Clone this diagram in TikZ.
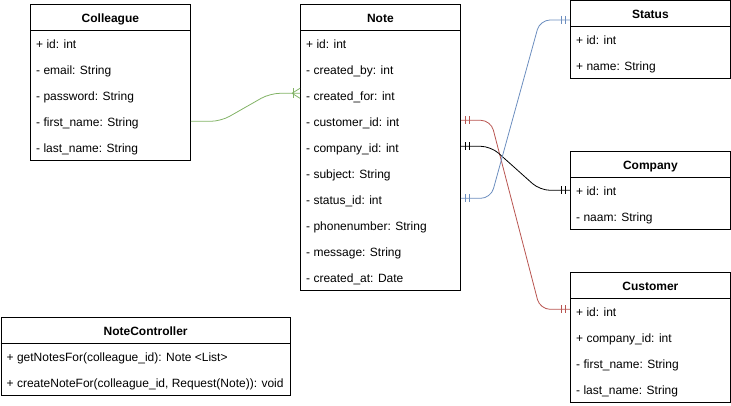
\documentclass[tikz,border=0pt]{standalone}
\usepackage{fontspec}
\setmainfont{Liberation Sans}
\definecolor{egreen}{HTML}{82B366}
\definecolor{eblue}{HTML}{6C8EBF}
\definecolor{ered}{HTML}{B85450}
\begin{document}
\begin{tikzpicture}[x=1pt,y=-1pt,font=\fontsize{12}{14}\selectfont,
  ent/.style={draw, line width=0.8pt, anchor=north west, inner sep=0, minimum width=#1},
  hdr/.style={font=\fontsize{12}{14}\selectfont\bfseries, anchor=base, inner sep=0, yshift=-1pt},
  row/.style={anchor=base west, inner sep=0, yshift=-1pt},
  rel/.style={line width=0.8pt, rounded corners=10pt},
  tickmark/.style={line width=0.8pt}]
\useasboundingbox (0,0) rectangle (731,406);

% ---------- Colleague
\node[ent=160pt, minimum height=156pt] (col) at (30,4) {};
\draw[line width=0.8pt] ([yshift=-26pt]col.north west) -- ([yshift=-26pt]col.north east);
\node[hdr] (colh) at ([yshift=-17.3pt]col.north) {Colleague};
\node[row] (c1) at ([xshift=6pt,yshift=-43.3pt]col.north west) {+ id: int};
\node[row] (c2) at ([xshift=6pt,yshift=-69.3pt]col.north west) {- email: String};
\node[row] (c3) at ([xshift=6pt,yshift=-95.3pt]col.north west) {- password: String};
\node[row] (c4) at ([xshift=6pt,yshift=-121.3pt]col.north west) {- first\_name: String};
\node[row] (c5) at ([xshift=6pt,yshift=-147.3pt]col.north west) {- last\_name: String};

% ---------- Note
\node[ent=160pt, minimum height=286pt] (note) at (300,4) {};
\draw[line width=0.8pt] ([yshift=-26pt]note.north west) -- ([yshift=-26pt]note.north east);
\node[hdr] (noteh) at ([yshift=-17.3pt]note.north) {Note};
\node[row] (n1) at ([xshift=6pt,yshift=-43.3pt]note.north west) {+ id: int};
\node[row] (n2) at ([xshift=6pt,yshift=-69.3pt]note.north west) {- created\_by: int};
\node[row] (n3) at ([xshift=6pt,yshift=-95.3pt]note.north west) {- created\_for: int};
\node[row] (n4) at ([xshift=6pt,yshift=-121.3pt]note.north west) {- customer\_id: int};
\node[row] (n5) at ([xshift=6pt,yshift=-147.3pt]note.north west) {- company\_id: int};
\node[row] (n6) at ([xshift=6pt,yshift=-173.3pt]note.north west) {- subject: String};
\node[row] (n7) at ([xshift=6pt,yshift=-199.3pt]note.north west) {- status\_id: int};
\node[row] (n8) at ([xshift=6pt,yshift=-225.3pt]note.north west) {- phonenumber: String};
\node[row] (n9) at ([xshift=6pt,yshift=-251.3pt]note.north west) {- message: String};
\node[row] (n10) at ([xshift=6pt,yshift=-277.3pt]note.north west) {- created\_at: Date};

% ---------- Status
\node[ent=160pt, minimum height=77.5pt] (st) at (570,0.5) {};
\draw[line width=0.8pt] ([yshift=-25.5pt]st.north west) -- ([yshift=-25.5pt]st.north east);
\node[hdr] (sth) at ([yshift=-17pt]st.north) {Status};
\node[row] (s1) at ([xshift=6pt,yshift=-43pt]st.north west) {+ id: int};
\node[row] (s2) at ([xshift=6pt,yshift=-69pt]st.north west) {+ name: String};
\coordinate (stin) at (570,20);

% ---------- Company
\node[ent=160pt, minimum height=78pt] (co) at (570,151) {};
\draw[line width=0.8pt] ([yshift=-26pt]co.north west) -- ([yshift=-26pt]co.north east);
\node[hdr] (coh) at ([yshift=-17.3pt]co.north) {Company};
\node[row] (o1) at ([xshift=6pt,yshift=-43.3pt]co.north west) {+ id: int};
\node[row] (o2) at ([xshift=6pt,yshift=-69.3pt]co.north west) {- naam: String};

% ---------- Customer
\node[ent=160pt, minimum height=130pt] (cu) at (570,272) {};
\draw[line width=0.8pt] ([yshift=-26pt]cu.north west) -- ([yshift=-26pt]cu.north east);
\node[hdr] (cuh) at ([yshift=-17.3pt]cu.north) {Customer};
\node[row] (u1) at ([xshift=6pt,yshift=-43.3pt]cu.north west) {+ id: int};
\node[row] (u2) at ([xshift=6pt,yshift=-69.3pt]cu.north west) {+ company\_id: int};
\node[row] (u3) at ([xshift=6pt,yshift=-95.3pt]cu.north west) {- first\_name: String};
\node[row] (u4) at ([xshift=6pt,yshift=-121.3pt]cu.north west) {- last\_name: String};

% ---------- NoteController
\node[ent=289.5pt, minimum height=78pt] (nc) at (0.5,317) {};
\draw[line width=0.8pt] ([yshift=-26pt]nc.north west) -- ([yshift=-26pt]nc.north east);
\node[hdr] (nch) at ([yshift=-17.3pt]nc.north) {NoteController};
\node[row] (k1) at ([xshift=6pt,yshift=-43.3pt]nc.north west) {+ getNotesFor(colleague\_id): Note <List>};
\node[row] (k2) at ([xshift=6pt,yshift=-69.3pt]nc.north west) {+ createNoteFor(colleague\_id, Request(Note)): void};

% ---------- attachment points
\coordinate (ga) at ([yshift=5pt]col.east |- c4.base);
\coordinate (gb) at ([yshift=7pt]note.west |- n3.base);
\coordinate (ra) at ([yshift=6pt]note.east |- n4.base);
\coordinate (rb) at ([yshift=7pt]cu.west |- u1.base);
\coordinate (ka) at ([yshift=6pt]note.east |- n5.base);
\coordinate (kb) at ([yshift=5pt]co.west |- o1.base);
\coordinate (ba) at ([yshift=6pt]note.east |- n7.base);

% ---------- relations
\draw[rel, egreen] (ga) -- ++(30,0) -- ([xshift=-30pt]gb) -- (gb);
\draw[tickmark, egreen] ([xshift=-7pt]gb) ++(0,-5) -- ++(0,10);
\draw[tickmark, egreen] ([xshift=-8pt]gb) -- ++(8,-5);
\draw[tickmark, egreen] ([xshift=-8pt]gb) -- ++(8,5);

\draw[rel, ered] (ra) -- ++(30,0) -- ([xshift=-30pt]rb) -- (rb);
\draw[rel, black] (ka) -- ++(30,0) -- ([xshift=-30pt]kb) -- (kb);
\draw[rel, eblue] (ba) -- ++(30,0) -- ([xshift=-30pt]stin) -- (stin);

% mandatory-one bars
\foreach \p/\c in {ra/ered, ka/black, ba/eblue} {
  \draw[tickmark, \c] ([xshift=5pt]\p) ++(0,-4) -- ++(0,8);
  \draw[tickmark, \c] ([xshift=8.5pt]\p) ++(0,-4) -- ++(0,8);
}
\foreach \p/\c in {rb/ered, kb/black, stin/eblue} {
  \draw[tickmark, \c] ([xshift=-5pt]\p) ++(0,-4) -- ++(0,8);
  \draw[tickmark, \c] ([xshift=-8.5pt]\p) ++(0,-4) -- ++(0,8);
}
\end{tikzpicture}
\end{document}
